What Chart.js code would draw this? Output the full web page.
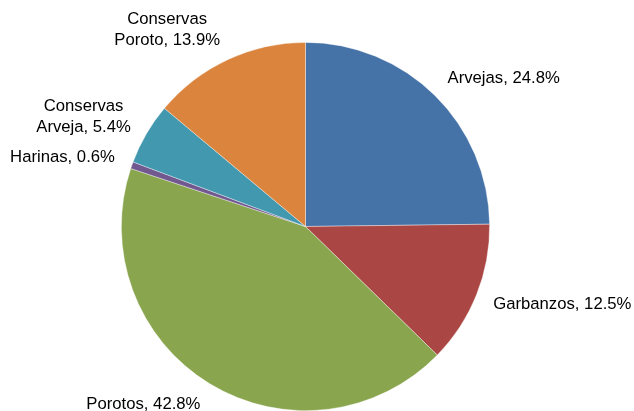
<!DOCTYPE html>
<html>
<head>
<meta charset="utf-8">
<script src="https://cdn.jsdelivr.net/npm/chart.js@4/dist/chart.umd.min.js"></script>
<style>
html,body{margin:0;padding:0;background:#fff;}
#wrap{width:634px;height:411px;position:relative;}
</style>
</head>
<body>
<div id="wrap"><canvas id="c" width="634" height="411"></canvas></div>
<script>
const categories = ["Arvejas", "Garbanzos", "Porotos", "Harinas", "Conservas Arveja", "Conservas Poroto"];
const labelLines = [["Arvejas, 24.8%"], ["Garbanzos, 12.5%"], ["Porotos, 42.8%"], ["Harinas, 0.6%"], ["Conservas", "Arveja, 5.4%"], ["Conservas", "Poroto, 13.9%"]];
const values = [24.8, 12.5, 42.8, 0.6, 5.4, 13.9];
const colors = ["#4572A7", "#AA4643", "#89A54E", "#71588F", "#4198AF", "#DB843D"];

const FONT = '16.7px "Liberation Sans", Arial, sans-serif';
const LINE_H = 21;

const labelPlugin = {
  id: 'outLabels',
  afterDraw(chart) {
    const ctx = chart.ctx;
    const meta = chart.getDatasetMeta(0);
    ctx.save();
    ctx.font = FONT;
    ctx.fillStyle = '#000';
    ctx.textBaseline = 'middle';
    meta.data.forEach((arc, i) => {
      const p = arc.getProps(['x', 'y', 'startAngle', 'endAngle', 'outerRadius'], true);
      const mid = (p.startAngle + p.endAngle) / 2;
      const r = p.outerRadius + 18;
      const ax = p.x + Math.cos(mid) * r;
      const ay = p.y + Math.sin(mid) * r;
      const lines = labelLines[i];
      const widths = lines.map(l => ctx.measureText(l).width);
      const w = Math.max(...widths);
      const h = lines.length === 1 ? 17 : 38;
      // sin(mid) here is the vertical component; shift box away from centre
      const cy = ay + Math.sin(mid) * (h / 2) * 0.78;
      const blockCenterX = Math.cos(mid) >= 0 ? ax + w / 2 : ax - w / 2;
      ctx.textAlign = 'center';
      const top = cy - (lines.length - 1) * LINE_H / 2;
      lines.forEach((l, k) => {
        ctx.fillText(l, blockCenterX, top + k * LINE_H);
      });
    });
    ctx.restore();
  }
};

new Chart(document.getElementById('c'), {
  type: 'pie',
  data: {
    labels: categories,
    datasets: [{
      data: values,
      backgroundColor: colors,
      borderColor: 'rgba(255,255,255,0.5)',
      borderWidth: 0.75
    }]
  },
  options: {
    responsive: false,
    animation: false,
    layout: { padding: { top: 42, bottom: 0, left: 0, right: 23 } },
    plugins: {
      legend: { display: false },
      tooltip: { enabled: false }
    }
  },
  plugins: [labelPlugin]
});
</script>
</body>
</html>
